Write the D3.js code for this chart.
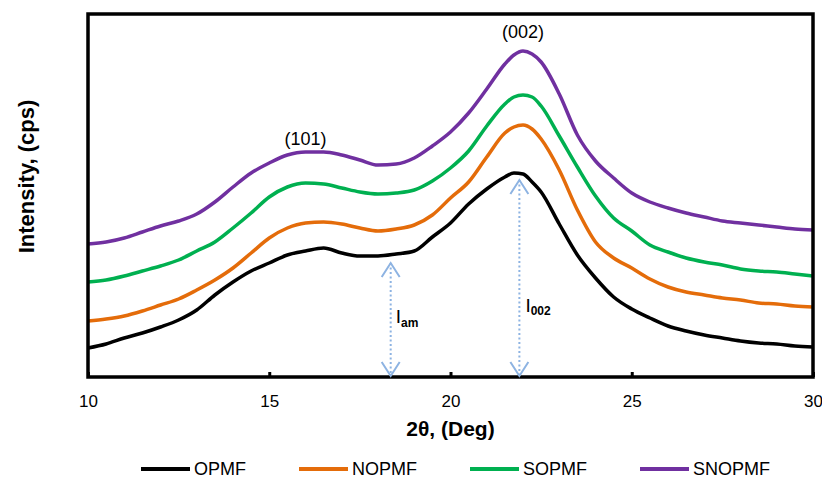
<!DOCTYPE html>
<html>
<head>
<meta charset="utf-8">
<script src="https://cdn.jsdelivr.net/npm/d3@7"></script>
<style>
  html, body { margin: 0; padding: 0; background: #fff; }
  svg { display: block; font-family: "Liberation Sans", Arial, sans-serif; }
</style>
</head>
<body>
<svg id="chart" width="822" height="478"></svg>
<script>
// 2-theta positions (deg) shared by all patterns
const twoTheta = [10, 10.5, 11, 11.5, 12, 12.5, 13, 13.5, 14, 14.5, 15, 15.5, 16, 16.5, 17, 17.5,
  18, 18.5, 19, 19.5, 20, 20.5, 21, 21.5, 21.75, 22, 22.25, 22.5, 23, 23.5, 24, 24.5, 25, 25.5,
  26, 26.5, 27, 27.5, 28, 28.5, 29, 29.5, 30];

// intensity, arbitrary units (patterns are stacked)
const opmf = [29, 33, 39, 44, 50, 57, 67, 82, 95, 106, 114, 122, 126, 129, 124, 121,
  121, 123, 126, 140, 154, 173, 188, 200, 204, 203, 195, 185, 153, 122, 99, 80, 68, 59,
  51, 46, 42, 39, 36, 34, 33, 31, 30];
const nopmf = [56, 58, 61, 66, 72, 78, 87, 97, 109, 124, 139, 149, 154, 155, 153, 149,
  146, 148, 152, 162, 179, 195, 220, 244, 250, 252, 248, 238, 207, 167, 135, 119, 109, 98,
  90, 85, 82, 79, 77, 74, 73, 71, 70];
const sopmf = [95, 97, 101, 106, 111, 117, 126, 135, 149, 164, 180, 190, 194, 193, 189, 185,
  183, 184, 187, 196, 209, 226, 251, 273, 280, 282, 280, 271, 241, 210, 181, 159, 146, 132,
  125, 119, 115, 112, 108, 106, 105, 103, 101];
const snopmf = [133, 135, 139, 145, 151, 156, 163, 175, 190, 204, 214, 222, 225, 225, 222, 217,
  212, 213, 219, 231, 245, 264, 288, 313, 322, 326, 323, 315, 283, 242, 216, 199, 184, 175,
  169, 164, 160, 156, 154, 152, 150, 148, 147];

const seriesNames = ["OPMF", "NOPMF", "SOPMF", "SNOPMF"];
const seriesColors = ["#000000", "#E46C0A", "#00B050", "#7030A0"];
const seriesValues = [opmf, nopmf, sopmf, snopmf];

const xTicks = [10, 15, 20, 25, 30];

// peak labels and intensity arrows (drawn down from the OPMF curve)
const peakLabels = [{ label: "(101)", x: 16.0, y: 232 }, { label: "(002)", x: 22.0, y: 339 }];
const arrowMarks = [{ x: 18.35, top: 121, sub: "am" }, { x: 21.9, top: 204, sub: "002" }];

const margin = { top: 14, right: 9, bottom: 101, left: 88 };
const width = 822, height = 478;

const svg = d3.select("#chart");

const x = d3.scaleLinear().domain([10, 30]).range([margin.left, width - margin.right]);
const y = d3.scaleLinear().domain([0, 363]).range([height - margin.bottom, margin.top]);

// axis with inward ticks
const xAxis = d3.axisBottom(x)
  .tickValues(xTicks)
  .tickSizeInner(-5)
  .tickSizeOuter(0)
  .tickPadding(18)
  .tickFormat(d3.format("d"));

const gx = svg.append("g")
  .attr("transform", `translate(0,${y(0)})`)
  .call(xAxis);
gx.select(".domain").remove();
gx.selectAll(".tick line").attr("stroke", "#000").attr("stroke-width", 3);
gx.selectAll(".tick text")
  .attr("fill", "#000")
  .style("font-size", "17px")
  .style("font-family", "'Liberation Sans', Arial, sans-serif");

// curves
const line = d3.line()
  .x(d => x(d[0]))
  .y(d => y(d[1]))
  .curve(d3.curveMonotoneX);

seriesValues.forEach((vals, i) => {
  svg.append("path")
    .datum(twoTheta.map((t, j) => [t, vals[j]]))
    .attr("fill", "none")
    .attr("stroke", seriesColors[i])
    .attr("stroke-width", 3.5)
    .attr("stroke-linejoin", "round")
    .attr("d", line);
});

// plot frame
svg.append("rect")
  .attr("x", x(10))
  .attr("y", y(363))
  .attr("width", x(30) - x(10))
  .attr("height", y(0) - y(363))
  .attr("fill", "none")
  .attr("stroke", "#000")
  .attr("stroke-width", 3.5);

// peak labels
svg.selectAll(".peak")
  .data(peakLabels)
  .enter()
  .append("text")
  .attr("class", "peak")
  .attr("x", d => x(d.x))
  .attr("y", d => y(d.y))
  .attr("text-anchor", "middle")
  .style("font-size", "18px")
  .text(d => d.label);

// I_am and I_002 dotted arrows
const arrowColor = "#8DB3E2";
arrowMarks.forEach(a => {
  const ax = x(a.x);
  const yTop = y(a.top) + 7;
  const yBot = y(0) - 1;
  const g = svg.append("g").attr("stroke", arrowColor).attr("fill", "none");
  g.append("line")
    .attr("x1", ax).attr("x2", ax)
    .attr("y1", yTop).attr("y2", yBot)
    .attr("stroke-width", 2)
    .attr("stroke-dasharray", "2,2.5");
  g.append("path")
    .attr("d", `M${ax - 9},${yTop + 14}L${ax},${yTop}L${ax + 9},${yTop + 14}`)
    .attr("stroke-width", 2);
  g.append("path")
    .attr("d", `M${ax - 9},${yBot - 14}L${ax},${yBot}L${ax + 9},${yBot - 14}`)
    .attr("stroke-width", 2);
});

const iLabels = [
  { x: 18.35, px: 5, py: 323, sub: "am", subDy: 4 },
  { x: 21.9, px: 6, py: 312, sub: "002", subDy: 3 }
];
iLabels.forEach(l => {
  const t = svg.append("text")
    .attr("x", x(l.x) + l.px)
    .attr("y", l.py)
    .style("font-size", "19px");
  t.append("tspan").text("I");
  t.append("tspan")
    .attr("dy", l.subDy)
    .style("font-size", "12px")
    .style("font-weight", "bold")
    .text(l.sub);
});

// axis titles
svg.append("text")
  .attr("x", (x(10) + x(30)) / 2)
  .attr("y", 436)
  .attr("text-anchor", "middle")
  .style("font-size", "21px")
  .style("font-weight", "bold")
  .text("2θ, (Deg)");

svg.append("text")
  .attr("transform", `translate(34,${(y(0) + y(363)) / 2 - 19}) rotate(-90)`)
  .attr("text-anchor", "middle")
  .style("font-size", "22px")
  .style("font-weight", "bold")
  .text("Intensity, (cps)");

// legend
const legendX = [141, 299, 470, 640];
const legend = svg.selectAll(".legend")
  .data(seriesNames)
  .enter()
  .append("g")
  .attr("class", "legend")
  .attr("transform", (d, i) => `translate(${legendX[i]},469)`);
legend.append("line")
  .attr("x1", 0).attr("x2", 49)
  .attr("stroke", (d, i) => seriesColors[i])
  .attr("stroke-width", 4);
legend.append("text")
  .attr("x", 53)
  .attr("y", 6)
  .style("font-size", "18px")
  .text(d => d);
</script>
</body>
</html>
